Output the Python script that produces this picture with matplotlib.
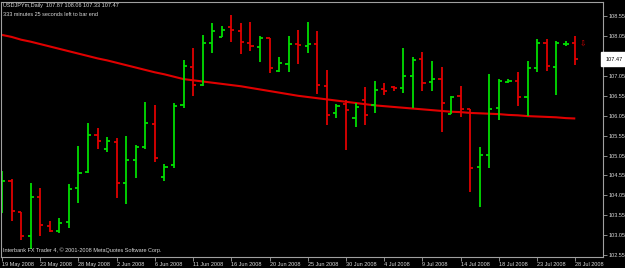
import matplotlib
matplotlib.use('Agg')
import matplotlib.pyplot as plt
import numpy as np

# ---------------- data ----------------
dates = ["2008-05-19", "2008-05-20", "2008-05-21", "2008-05-22", "2008-05-23",
         "2008-05-25", "2008-05-26", "2008-05-27", "2008-05-28", "2008-05-29", "2008-05-30",
         "2008-06-01", "2008-06-02", "2008-06-03", "2008-06-04", "2008-06-05", "2008-06-06",
         "2008-06-08", "2008-06-09", "2008-06-10", "2008-06-11", "2008-06-12", "2008-06-13",
         "2008-06-15", "2008-06-16", "2008-06-17", "2008-06-18", "2008-06-19", "2008-06-20",
         "2008-06-22", "2008-06-23", "2008-06-24", "2008-06-25", "2008-06-26", "2008-06-27",
         "2008-06-29", "2008-06-30", "2008-07-01", "2008-07-02", "2008-07-03", "2008-07-04",
         "2008-07-06", "2008-07-07", "2008-07-08", "2008-07-09", "2008-07-10", "2008-07-11",
         "2008-07-13", "2008-07-14", "2008-07-15", "2008-07-16", "2008-07-17", "2008-07-18",
         "2008-07-20", "2008-07-21", "2008-07-22", "2008-07-23", "2008-07-24", "2008-07-25",
         "2008-07-27", "2008-07-28"]

opens = [103.93, 104.41, 103.62, 103.04, 104.01, 103.27, 103.15, 103.37, 104.23, 104.64,
         105.56, 105.22, 105.40, 104.37, 104.94, 105.26, 105.85, 104.50, 104.82, 106.31,
         107.28, 106.82, 107.88, 108.03, 108.27, 108.19, 107.88, 107.78, 108.00, 107.18,
         107.34, 107.84, 107.81, 107.84, 106.80, 106.12, 106.34, 105.99, 106.44, 106.32,
         106.72, 106.76, 106.74, 107.05, 107.47, 106.89, 106.96, 106.10, 106.55, 106.21,
         104.76, 105.06, 106.24, 106.90, 106.92, 106.53, 107.24, 107.87, 107.28, 107.84,
         107.87]
highs = [104.67, 104.46, 103.63, 104.36, 104.23, 103.40, 103.48, 104.33, 105.29, 105.87,
         105.73, 105.51, 105.50, 105.54, 105.32, 106.40, 106.33, 104.83, 106.36, 107.45,
         107.74, 108.08, 108.37, 108.30, 108.57, 108.39, 108.41, 108.05, 108.01, 107.53,
         108.06, 108.20, 108.40, 108.18, 107.20, 106.34, 106.44, 106.36, 106.76, 106.92,
         106.86, 106.80, 107.74, 107.53, 107.64, 107.42, 107.28, 106.55, 106.80, 106.22,
         105.27, 107.09, 106.97, 106.96, 107.14, 107.42, 107.98, 107.97, 107.93, 107.93,
         108.06]
lows = [103.60, 103.41, 102.93, 102.69, 103.03, 103.12, 103.10, 103.23, 103.86, 104.62,
        105.21, 105.15, 103.99, 103.84, 104.49, 105.22, 104.89, 104.41, 104.74, 106.25,
        106.55, 106.79, 107.63, 108.02, 107.90, 107.59, 107.68, 107.40, 107.12, 107.15,
        107.14, 107.34, 107.63, 106.60, 105.82, 105.99, 105.19, 105.77, 105.82, 106.12,
        106.57, 106.68, 106.63, 106.24, 106.67, 106.68, 105.65, 106.09, 106.03, 104.14,
        103.75, 104.73, 105.94, 106.87, 106.30, 106.04, 107.14, 107.18, 106.56, 107.80,
        107.33]
closes = [104.42, 103.65, 103.02, 104.00, 103.31, 103.15, 103.36, 104.20, 104.62, 105.56,
          105.41, 105.41, 104.35, 104.94, 105.26, 105.87, 104.99, 104.75, 106.30, 107.31,
          106.83, 107.88, 108.19, 108.20, 108.20, 107.91, 107.81, 108.00, 107.24, 107.37,
          107.85, 107.83, 107.84, 106.82, 106.07, 106.29, 106.19, 106.27, 106.07, 106.70,
          106.67, 106.74, 107.05, 107.45, 106.88, 106.98, 106.38, 106.53, 106.21, 104.74,
          105.06, 106.21, 106.92, 106.92, 106.53, 107.24, 107.88, 107.30, 107.87, 107.85,
          107.47]
ma = [108.08, 108.03, 107.96, 107.91, 107.85, 107.79, 107.73, 107.67, 107.61, 107.55,
      107.49, 107.44, 107.38, 107.32, 107.26, 107.20, 107.14, 107.09, 107.03, 106.97,
      106.94, 106.91, 106.88, 106.85, 106.82, 106.79, 106.75, 106.71, 106.67, 106.63,
      106.59, 106.55, 106.52, 106.49, 106.46, 106.43, 106.40, 106.37, 106.34, 106.31,
      106.29, 106.27, 106.25, 106.23, 106.21, 106.19, 106.17, 106.15, 106.14, 106.12,
      106.11, 106.10, 106.09, 106.07, 106.06, 106.04, 106.03, 106.02, 106.01, 105.99,
      105.98]

tick_dates = ["2008-05-19", "2008-05-23", "2008-05-28", "2008-06-02", "2008-06-06",
              "2008-06-11", "2008-06-16", "2008-06-20", "2008-06-25", "2008-06-30",
              "2008-07-04", "2008-07-09", "2008-07-14", "2008-07-18", "2008-07-23",
              "2008-07-28"]
tick_labels = ["19 May 2008", "23 May 2008", "28 May 2008", "2 Jun 2008", "6 Jun 2008",
               "11 Jun 2008", "16 Jun 2008", "20 Jun 2008", "25 Jun 2008", "30 Jun 2008",
               "4 Jul 2008", "9 Jul 2008", "14 Jul 2008", "18 Jul 2008", "23 Jul 2008",
               "28 Jul 2008"]
price_ticks = [102.55, 103.05, 103.55, 104.05, 104.55, 105.05, 105.55,
               106.05, 106.55, 107.05, 107.55, 108.05, 108.55]
last_price = 107.47
title = "USDJPYm,Daily  107.87 108.06 107.33 107.47"
subtitle = "333 minutes 25 seconds left to bar end"
footer = "Interbank FX Trader 4, \u00a9 2001-2008 MetaQuotes Software Corp."

# ---------------- style ----------------
FONT = ['Liberation Sans', 'DejaVu Sans']
FS = 4.0
TXT = '#D8D8D8'
GRID = '#A0A0A0'
UP = '#00DD00'
DOWN = '#E00000'

W, H = 625, 268
fig = plt.figure(figsize=(W / 100, H / 100), dpi=100, facecolor='black')
ax = fig.add_axes([1 / W, 11 / H, 602 / W, 255 / H], facecolor='black')

x = np.arange(len(dates))
o = np.array(opens); h = np.array(highs); l = np.array(lows); c = np.array(closes)
cols = [UP if cc >= oo else DOWN for oo, cc in zip(o, c)]

ax.plot(x, ma, color='#E00000', lw=1.5, zorder=1, solid_capstyle='butt')
ax.vlines(x, l, h, colors=cols, lw=1.3, zorder=2)
ax.hlines(o, x - 0.33, x, colors=cols, lw=1.3, zorder=2)
ax.hlines(c, x, x + 0.33, colors=cols, lw=1.3, zorder=2)

ax.set_xlim(-0.105, 62.9)
ax.set_ylim(102.50, 108.907)

for s in ax.spines.values():
    s.set_color(GRID)
    s.set_linewidth(0.8)

ax.yaxis.tick_right()
ax.set_yticks(price_ticks)
ax.set_yticklabels([f"{v:.2f}" for v in price_ticks])
ax.tick_params(axis='y', colors=GRID, labelcolor=TXT, length=3, width=0.6,
               pad=1.2, labelsize=FS, direction='out')
for t in ax.get_yticklabels():
    t.set_family(FONT)

tpos = [dates.index(d) for d in tick_dates]
ax.set_xticks(tpos)
ax.set_xticklabels(tick_labels, ha='left')
ax.tick_params(axis='x', colors=GRID, labelcolor=TXT, length=3, width=0.6,
               pad=0.8, labelsize=FS, direction='out')
for t in ax.get_xticklabels():
    t.set_family(FONT)

# current price marker box
ax.text(1.004, last_price, f"{last_price:.2f}", transform=ax.get_yaxis_transform(),
        ha='left', va='center', fontsize=FS, family=FONT, color='black',
        bbox=dict(facecolor='white', edgecolor='white', pad=0.8, boxstyle='square'),
        zorder=10, clip_on=False)

# arrow object near last bar
ax.text(60.8, 107.85, '\u21e9', color='#D00000', fontsize=5.5, ha='center', va='center',
        family='DejaVu Sans', zorder=3)

fig.text(3 / W, 1 - 6 / H, title, color=TXT, fontsize=FS, family=FONT, ha='left', va='center')
fig.text(3 / W, 1 - 14 / H, subtitle, color=TXT, fontsize=FS, family=FONT, ha='left', va='center')
fig.text(3 / W, 1 - 250 / H, footer, color=TXT, fontsize=FS, family=FONT, ha='left', va='center')

fig.savefig('out.png', dpi=100, facecolor='black')
